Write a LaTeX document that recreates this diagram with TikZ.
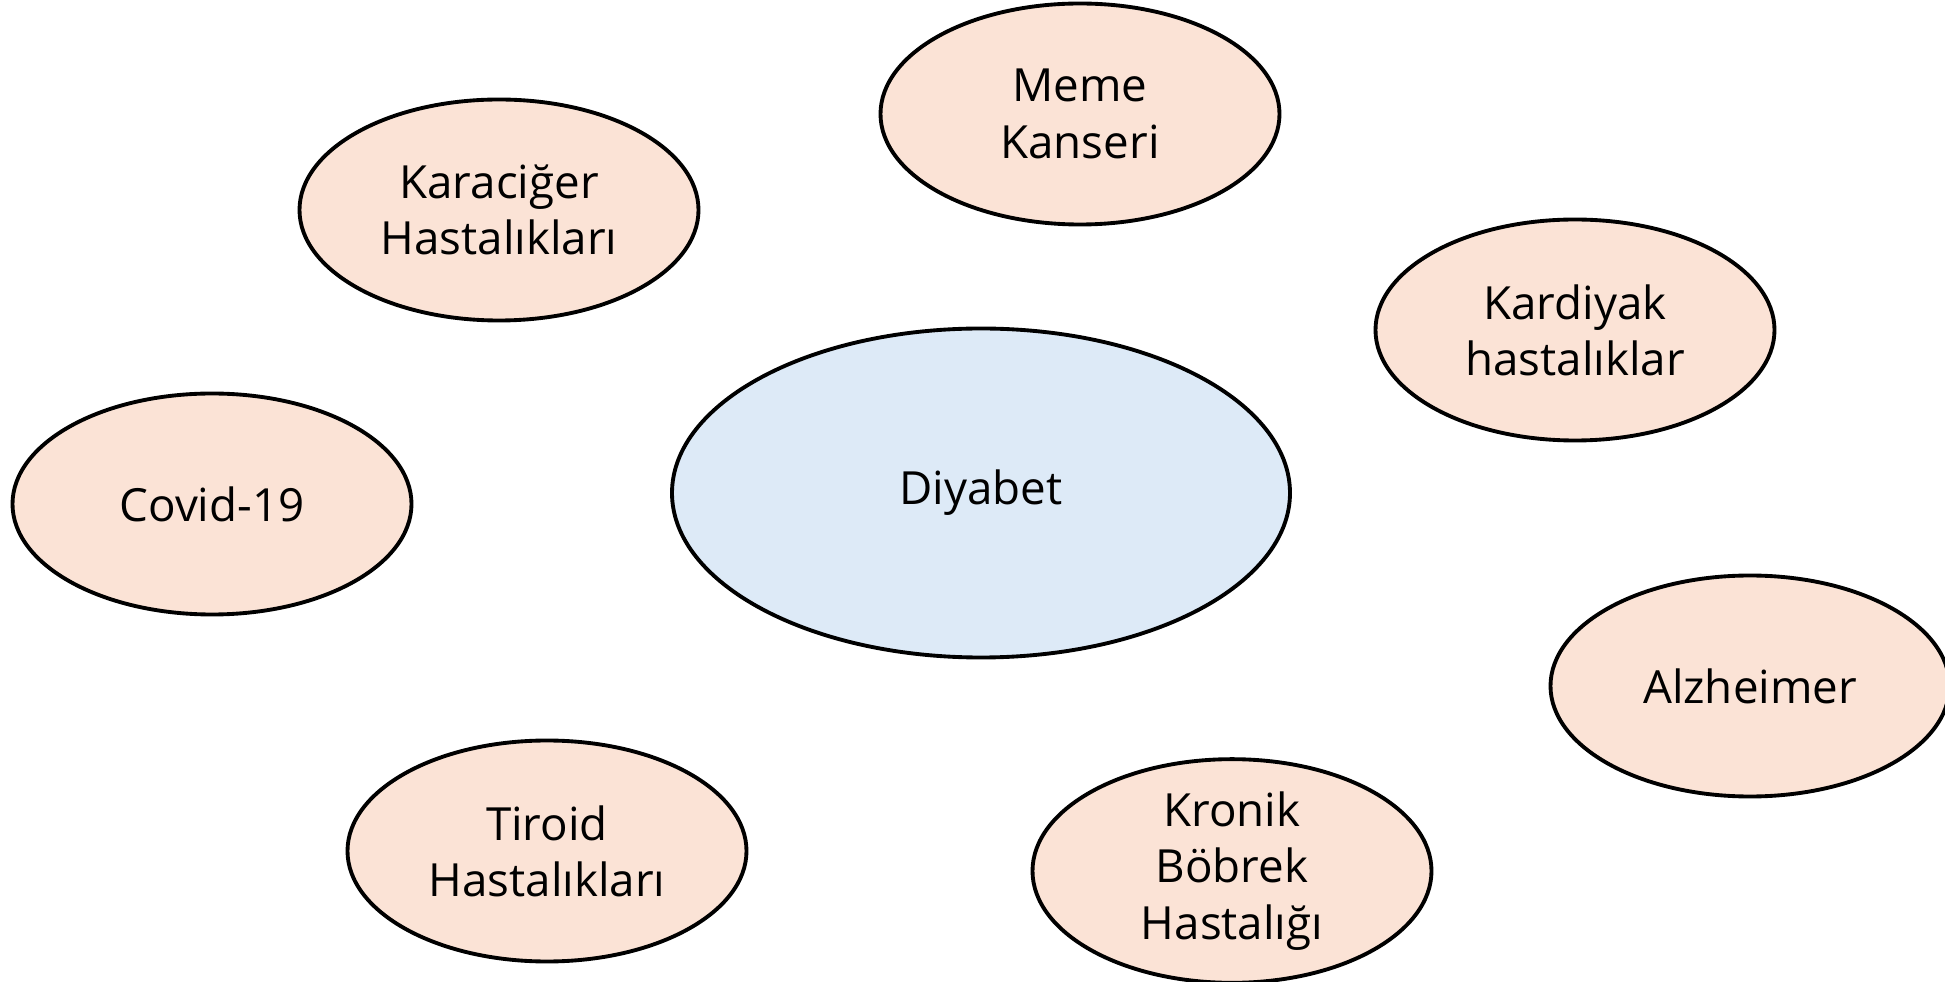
\documentclass[tikz,border=0pt]{standalone}
\usepackage{fontspec}
\setmainfont{Open Sans}
\usepackage{xcolor}
\usepackage{tikz}
\usetikzlibrary{shapes.geometric}

\definecolor{peach}{HTML}{FBE3D6}
\definecolor{paleblue}{HTML}{DDEAF7}

\tikzset{
    disease/.style = {ellipse, draw = black, line width = 1.1pt, fill = peach,
        minimum width = 3.99cm, minimum height = 2.21cm, inner sep = 0pt,
        align = center, font = \fontsize{13}{16}\selectfont},
    centre/.style = {disease, fill = paleblue,
        minimum width = 6.18cm, minimum height = 3.29cm}
}

\begin{document}
\begin{tikzpicture}
    \useasboundingbox (0, 0) rectangle (19.45, -9.82);
    \clip (0, 0) rectangle (19.45, -9.82);

    \node [centre] (diyabet) at (9.81, -4.93) {Diyabet};

    \node [disease] (meme) at (10.80, -1.14) {Meme\\Kanseri};
    \node [disease] (karaciger) at (4.99, -2.10) {Karaciğer\\Hastalıkları};
    \node [disease] (kardiyak) at (15.75, -3.30) {Kardiyak\\hastalıklar};
    \node [disease] (covid) at (2.12, -5.04) {Covid-19};
    \node [disease] (alzheimer) at (17.50, -6.86) {Alzheimer};
    \node [disease] (tiroid) at (5.47, -8.51) {Tiroid\\Hastalıkları};
    \node [disease] (bobrek) at (12.32, -8.71) {Kronik\\Böbrek\\Hastalığı};
\end{tikzpicture}
\end{document}
